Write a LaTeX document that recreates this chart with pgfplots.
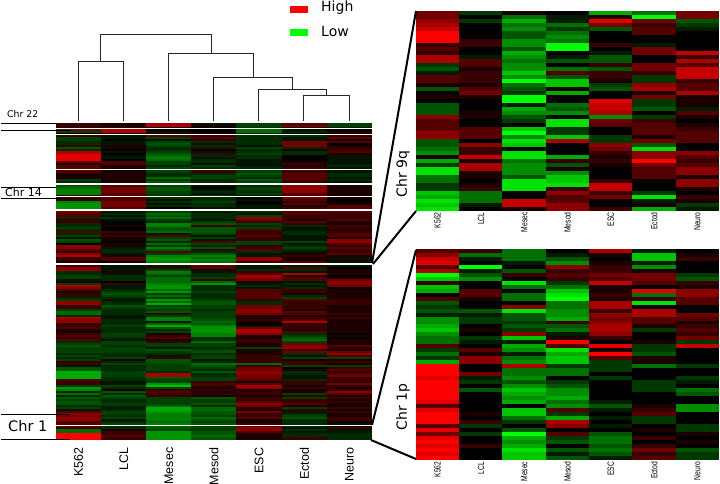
\documentclass[border=0pt]{standalone}
\usepackage{fontspec}
\setmainfont{Liberation Sans}
\newfontfamily\dv{DejaVu Sans}
\usepackage{pgfplots}
\usepackage{pgfplotstable}
\pgfplotsset{compat=1.18}
\pgfdeclareplotmark{cellmain}{\pgfpathrectangle{\pgfpoint{-22.7pt}{-1.15pt}}{\pgfpoint{45.4pt}{2.3pt}}\pgfusepathqfill}
\pgfdeclareplotmark{cellside}{\pgfpathrectangle{\pgfpoint{-21.8pt}{-2.15pt}}{\pgfpoint{43.6pt}{4.3pt}}\pgfusepathqfill}
\pgfplotstableread{
c0 c1 c2 c3 c4 c5 c6
2 1 6 -1 -3 3 -3
2 1 6 1 -3 4 -3
1 1 1 0 -2 1 -1
4 6 0 0 -5 -1 0
-3 6 -1 0 -5 -2 1
0 1 1 1 -2 0 1
2 -1 3 2 -2 -2 2
-3 -1 -3 3 -2 -1 3
-3 0 -1 2 -2 -1 1
-2 -1 -3 -2 -2 4 3
-2 -1 -4 -1 -2 4 0
2 1 -3 -2 -1 4 1
-4 1 -2 2 -3 -2 2
-2 0 -2 0 -2 1 2
6 -1 -3 -1 -2 -2 3
7 0 -4 2 -3 -2 1
8 -1 -5 -2 -2 0 -1
8 -1 -6 -1 -2 0 -1
8 0 -5 -2 -1 0 -1
4 3 -3 -2 -1 1 -1
1 3 -3 -1 -1 2 -1
3 1 -2 -3 -1 1 -2
3 1 -3 -2 -2 2 -1
3 1 -3 2 -3 3 -1
3 1 -3 2 -3 2 -1
1 1 -2 -2 -4 3 -2
1 1 -2 -3 -3 3 -2
1 1 -5 -3 -2 3 -1
-3 1 -3 -2 -4 3 -2
-2 1 -4 -2 -3 2 -1
-3 2 -3 -1 -2 4 1
-4 3 -3 -1 -2 5 1
-5 4 -4 0 -3 5 1
-6 4 -4 -1 -3 5 1
-6 4 -3 -2 -2 5 1
-6 3 -3 -1 -3 3 1
2 3 -2 -2 -1 3 1
2 3 -2 -2 0 4 1
2 3 -1 -2 -1 3 0
-6 4 -2 -3 0 2 0
-7 4 -1 -2 0 3 1
-7 4 -2 -2 -1 1 3
-7 3 0 -1 -1 2 3
3 1 -1 -1 -1 3 3
4 -1 -3 -1 -2 3 3
3 -2 -5 -2 -1 3 2
3 -1 -4 -2 -3 2 2
-2 -2 -5 -2 5 2 2
2 -1 -3 -1 4 1 3
2 0 -2 -3 2 3 1
-2 0 -6 -4 -3 2 1
-2 1 -6 2 -2 -2 2
-3 0 -4 -4 -3 -1 2
-2 0 -4 -4 3 -1 1
3 2 -5 -4 2 -2 2
-2 1 -1 -3 2 -2 3
-3 2 3 -1 3 -1 3
-1 1 -3 -3 2 -1 1
-4 1 -4 -1 2 -1 5
-3 0 -2 3 -3 -3 5
0 1 -5 -3 -3 -1 3
5 1 -3 -2 2 -2 2
5 -1 -6 -4 2 -3 3
3 -2 -4 2 3 -2 2
2 -2 3 -2 -2 -1 2
5 -1 -3 -4 -1 1 3
6 1 -6 -6 -1 2 1
2 3 -7 -5 5 1 -1
2 3 -7 -6 5 1 1
1 0 -6 -5 2 3 -1
1 0 -2 -2 1 1 -1
2 -1 -1 3 -1 -1 -1
5 -1 2 3 -1 3 0
5 -1 -3 1 -2 -2 1
-2 1 -6 -1 2 -1 1
-2 -1 -5 -2 3 6 1
-3 -2 -3 -2 6 1 0
-3 -2 -5 -3 5 3 1
-1 -2 -5 2 4 3 4
1 0 -5 -5 1 -1 5
-3 2 -6 -7 -1 -2 5
6 -1 -7 -2 -2 -1 4
5 -1 -7 -2 -1 -2 0
3 -2 -5 -2 3 2 1
-1 -3 -7 -3 3 2 1
2 -4 -3 -2 3 1 1
2 -3 -5 -2 3 -2 1
-2 -2 -3 -2 3 -3 1
-3 -1 -7 -3 2 3 2
5 -2 -5 -4 -2 2 2
5 -2 -8 -4 -2 2 2
2 -4 -3 -3 4 2 1
2 -3 -4 -3 4 2 1
-3 -2 -3 -2 5 1 1
-5 -2 -4 -3 5 3 1
-5 -2 2 -3 4 3 2
-2 -1 -3 -3 1 1 1
6 -1 -6 -3 1 2 2
5 -2 -6 -4 2 3 1
5 -2 -1 -5 1 6 1
2 -2 -5 -4 0 2 1
2 -3 -8 -6 -1 2 1
3 -2 -4 -7 4 2 1
1 -2 -2 -7 6 1 1
1 -2 -3 -7 6 3 1
2 -3 1 -6 5 -2 0
3 -3 2 -6 1 -3 1
2 -2 3 -2 1 -4 0
3 -1 1 -2 2 -5 1
-2 -3 2 -5 2 -3 1
-3 -3 -3 -3 1 4 1
-4 -2 -3 -3 1 5 3
-3 -3 -1 -2 -3 5 2
-3 -3 -4 -3 1 2 1
-3 -3 -3 -4 1 4 4
-2 -2 -2 -2 1 -2 5
-3 -2 -1 -3 2 -1 3
-2 -3 2 -3 2 -3 -3
-3 1 -4 -1 2 1 1
2 -2 -4 -2 2 2 2
2 -3 -3 -5 -5 2 1
-1 -2 -3 -4 2 -3 -3
-4 -2 -3 -3 4 0 2
-4 -2 -3 -2 4 1 3
-8 -3 -2 -4 5 -2 2
-8 -3 6 -2 5 -2 3
-8 -3 6 -2 4 -1 4
-8 -2 -4 -3 4 -1 2
3 -2 -3 -3 3 -2 2
2 -1 -3 2 1 2 2
2 -1 -7 3 3 2 4
-3 -3 -9 2 6 1 2
-7 -2 -3 1 5 2 1
-6 1 2 2 1 1 2
-2 -4 3 1 2 1 5
-5 -2 2 2 2 -3 3
-2 -4 2 1 1 2 1
-4 -3 -3 -4 2 -3 2
-3 -2 -3 -3 2 2 1
-4 -2 -3 -3 3 2 2
-4 -3 -3 -4 5 3 1
-2 -2 -5 -2 4 1 1
-3 -1 -8 -5 2 -3 2
-1 -2 -8 -5 1 2 1
3 -3 -7 -4 4 -1 2
5 -3 -6 -4 2 -2 1
4 -2 -6 -3 2 -3 1
5 -3 -6 -5 3 -4 2
5 -1 -6 -4 1 -2 2
3 -2 -5 -3 1 -2 1
3 -3 -6 -4 2 -2 -1
4 -2 -5 -3 3 -2 1
2 -2 -4 -3 5 -1 2
-5 1 -3 -3 5 -2 -1
-5 2 -7 -4 3 -1 -1
9 2 -7 -4 1 -2 -2
9 3 -7 -5 1 -2 -2
9 2 -7 -4 1 2 -2
}\mainT
\pgfplotstableread{
c0 c1 c2 c3 c4 c5 c6
4 -2 1 0 -6 -4 4
4 0 -4 -1 1 -9 4
5 -2 -6 -1 8 4 -3
6 0 -4 -4 4 2 -2
7 0 -5 -2 -3 3 -1
9 0 -3 -4 0 3 0
9 0 -3 -5 0 0 0
9 2 -5 -4 0 0 0
2 2 -5 -9 2 -1 0
3 0 -3 -9 0 4 0
2 0 -6 0 -1 4 7
6 -1 -5 -1 -3 0 2
6 3 -4 -3 -3 0 6
-2 3 -5 0 2 4 3
-3 1 -5 -4 -3 4 7
-1 2 -7 3 2 2 7
3 2 -5 -3 2 -2 7
3 2 -9 -7 1 -2 2
1 1 -4 -7 -2 5 3
-3 3 -3 1 -3 6 3
0 4 -2 -6 0 1 6
1 1 -9 0 0 4 1
0 0 -9 0 8 -2 1
-3 0 -1 -4 7 -2 1
-3 0 -6 -3 7 -3 -1
-3 1 -5 -5 6 0 3
5 1 -3 0 -5 -2 1
3 0 -2 -8 4 2 0
3 0 0 -8 3 3 1
3 3 -7 -2 0 3 2
5 3 -9 -2 0 3 3
5 3 -5 -7 -2 1 3
-3 0 -8 6 -2 4 3
-3 5 -7 0 5 -3 0
-4 2 0 0 4 -8 0
-5 2 -8 0 2 5 5
1 7 -8 -6 1 5 3
-6 1 -4 2 2 9 2
-2 6 -5 -3 1 4 3
-8 6 -5 1 0 3 5
-8 1 -5 -5 0 3 5
-4 1 -3 -7 0 3 1
-4 0 -8 -7 2 0 5
-2 1 -8 -8 7 0 5
-2 2 -8 2 7 0 1
-7 -4 0 5 2 -2 0
-6 -4 0 3 4 -8 2
-8 -4 7 3 0 -1 1
-7 -1 7 5 0 1 -2
-8 0 1 5 2 -6 -1
}\topT
\pgfplotstableread{
c0 c1 c2 c3 c4 c5 c6
3 2 -4 0 6 -1 0
5 -4 -4 -1 1 -7 1
7 -1 -4 -3 0 -7 2
8 0 -1 -5 1 -1 0
3 -9 0 5 2 -5 0
6 -1 -3 2 2 1 0
-9 -3 2 3 4 4 -2
-7 -5 0 2 3 4 -3
2 0 -8 -2 7 3 2
-7 0 -4 -4 1 0 1
-6 3 0 -7 1 8 5
0 3 -4 -8 2 -4 5
3 1 -4 -9 1 2 3
-3 0 0 -4 6 -8 3
-2 0 5 -4 6 0 0
-3 -3 -8 -5 2 6 0
-1 -1 -3 -5 5 6 4
-5 -2 -3 -6 4 3 3
-5 -2 -2 2 5 3 1
-6 0 -3 -3 6 1 2
-7 1 -2 -4 6 -2 3
-5 0 5 -1 5 0 2
-4 -2 -7 1 2 0 4
-4 -1 -1 9 0 1 -2
3 0 -6 3 8 -2 7
-2 3 -5 -8 1 -2 0
-4 1 -1 -6 9 -3 0
-2 5 -4 -7 3 1 0
-6 5 -5 -7 -2 1 0
9 0 6 -2 -2 -4 -2
9 0 -4 -4 -2 0 0
9 4 -4 -4 0 0 0
8 -1 -5 0 -2 0 -2
9 -2 -3 -2 0 -2 -1
9 0 -5 -3 0 -2 0
9 -3 -7 -5 0 -2 -4
9 0 -6 -5 0 0 -3
9 0 -5 -6 0 0 0
8 0 -6 -4 -1 0 0
3 0 0 -5 -3 1 -5
8 0 -7 3 -1 2 -5
9 1 -7 -2 0 3 0
9 0 -4 -6 -1 -2 0
9 2 -2 6 0 -2 0
3 -2 0 5 -1 0 -2
8 0 -3 0 0 1 -2
4 -2 -9 3 -3 0 1
8 0 -6 -2 -4 2 0
9 0 -5 -3 -4 0 1
8 2 -6 0 -3 2 0
9 0 -8 -3 -4 4 -3
8 0 -7 -1 -3 2 -2
9 0 -7 -3 -1 3 -2
}\botT
\pgfplotsset{
  hm/.style={scale only axis, anchor=south west,
    colormap={rg}{rgb255(0cm)=(0,255,0); rgb255(1cm)=(0,0,0); rgb255(2cm)=(255,0,0)},
    point meta min=-9, point meta max=9,
    xmin=-0.5, xmax=6.5, ymin=-0.5, y dir=reverse,
    axis line style={draw=none}, tick style={draw=none}, ytick=\empty,
    xtick={0,...,6}},
  cellplot/.style={scatter, only marks, mark=#1, scatter src=explicit, forget plot},
}
\newcommand{\sq}[1]{\scalebox{0.75}[1]{\fontsize{9}{9}\selectfont #1}}
\begin{document}
\begin{tikzpicture}[x=1pt,y=1pt]
\useasboundingbox (0,0) rectangle (720,484);
\begin{axis}[hm, at={(56pt,44.5pt)}, width=316pt, height=316pt, ymax=157.5,
  colormap={rgmain}{rgb255(0cm)=(0,255,0); rgb255(12cm)=(0,0,0); rgb255(21cm)=(255,0,0)},
  point meta min=-12, point meta max=9,
  xticklabels={K562,LCL,Mesec,Mesod,ESC,Ectod,Neuro},
  xticklabel style={yshift=-8pt, rotate=90, anchor=east, font=\fontsize{12.5}{13}\selectfont, inner sep=0pt}]
\pgfplotsinvokeforeach{0,...,6}{
  \addplot[cellplot=cellmain] table[x expr=#1, y expr=\coordindex, meta=c#1] {\mainT};
}
\end{axis}
\begin{axis}[hm, at={(416pt,273.3pt)}, width=303pt, height=199.7pt, ymax=49.5,
  xticklabels={\sq{K562},\sq{LCL},\sq{Mesec},\sq{Mesod},\sq{ESC},\sq{Ectod},\sq{Neuro}},
  xticklabel style={yshift=-1.5pt, rotate=90, anchor=east, inner sep=0pt}]
\pgfplotsinvokeforeach{0,...,6}{
  \addplot[cellplot=cellside] table[x expr=#1, y expr=\coordindex, meta=c#1] {\topT};
}
\end{axis}
\begin{axis}[hm, at={(416pt,24pt)}, width=303pt, height=211pt, ymax=52.5,
  xticklabels={\sq{K562},\sq{LCL},\sq{Mesec},\sq{Mesod},\sq{ESC},\sq{Ectod},\sq{Neuro}},
  xticklabel style={yshift=-1.5pt, rotate=90, anchor=east, inner sep=0pt}]
\pgfplotsinvokeforeach{0,...,6}{
  \addplot[cellplot=cellside] table[x expr=#1, y expr=\coordindex, meta=c#1] {\botT};
}
\end{axis}
\begin{axis}[scale only axis, anchor=south west, at={(0pt,0pt)}, width=720pt, height=484pt,
  xmin=0, xmax=720, ymin=0, ymax=484, y dir=reverse, hide axis, clip=false]
% separators
\pgfplotsinvokeforeach{128.3,134.3,169.3,196.7,425.7}{
  \addplot[white, line width=1.2pt, forget plot] coordinates {(56,#1)(372,#1)};
}
\pgfplotsinvokeforeach{184,209.7,263.7}{
  \addplot[white, line width=1.8pt, forget plot] coordinates {(56,#1)(372,#1)};
}
% dendrogram
\addplot[black!85, line width=0.9pt] coordinates {(78.3,120.7)(78.3,61)(123.3,61)(123.3,120.7)};
\addplot[black!85, line width=0.9pt] coordinates {(303.3,120.7)(303.3,95)(349,95)(349,120.7)};
\addplot[black!85, line width=0.9pt] coordinates {(258.3,120.7)(258.3,89.3)(326.7,89.3)(326.7,95)};
\addplot[black!85, line width=0.9pt] coordinates {(213.3,120.7)(213.3,77)(292.7,77)(292.7,89.3)};
\addplot[black!85, line width=0.9pt] coordinates {(168.3,120.7)(168.3,53.3)(253,53.3)(253,77)};
\addplot[black!85, line width=0.9pt] coordinates {(100.7,61)(100.7,34.3)(211,34.3)(211,53.3)};
% legend swatches
\addplot[fill=red, draw=none, forget plot] coordinates {(290,6)(308,6)(308,13.5)(290,13.5)} -- cycle;
\addplot[fill=green, draw=none, forget plot] coordinates {(290,29)(308,29)(308,36)(290,36)} -- cycle;
% chromosome brackets
\addplot[black, line width=0.7pt] coordinates {(1,123.7)(56,123.7)};
\addplot[black, line width=0.7pt] coordinates {(1,130)(70,130)};
\addplot[black, line width=0.7pt] coordinates {(1,187)(56,187)};
\addplot[black, line width=0.7pt] coordinates {(1,198)(70,198)};
\addplot[black, line width=0.7pt] coordinates {(1,414.3)(70,414.3)};
\addplot[black, line width=0.7pt] coordinates {(1,439.3)(70,439.3)};
% connectors
\addplot[black, line width=2pt] coordinates {(372,263)(416,11)};
\addplot[black, line width=2pt] coordinates {(373,264)(416,211)};
\addplot[black, line width=2pt] coordinates {(372,425)(416,250)};
\addplot[black, line width=2pt] coordinates {(371,440)(416,459)};
% texts
\node[anchor=base west, inner sep=0pt, font=\dv\fontsize{14}{14}\selectfont] at (axis cs:321,12) {High};
\node[anchor=base west, inner sep=0pt, font=\dv\fontsize{14}{14}\selectfont] at (axis cs:321,37) {Low};
\node[anchor=west, inner sep=0pt, font=\dv\fontsize{9.3}{10}\selectfont] at (axis cs:7,114) {Chr 22};
\node[anchor=west, inner sep=0pt, font=\dv\fontsize{11}{12}\selectfont] at (axis cs:5,192.7) {Chr 14};
\node[anchor=west, inner sep=0pt, font=\dv\fontsize{14.5}{15}\selectfont] at (axis cs:8,425.7) {Chr 1};
\node[rotate=90, inner sep=0pt, font=\dv\fontsize{14}{14}\selectfont] at (axis cs:403,174) {Chr 9q};
\node[rotate=90, inner sep=0pt, font=\dv\fontsize{14}{14}\selectfont] at (axis cs:403,407) {Chr 1p};
\end{axis}
\end{tikzpicture}
\end{document}
